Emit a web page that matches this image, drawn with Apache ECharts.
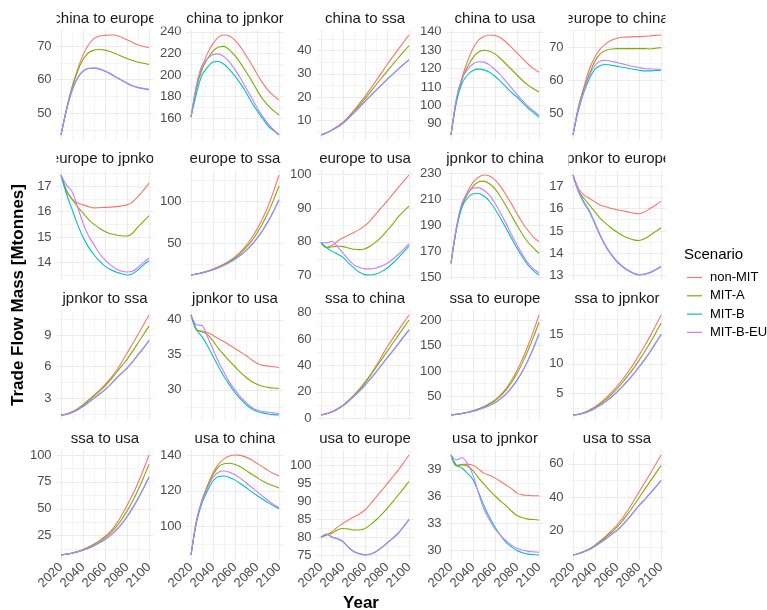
<!DOCTYPE html>
<html>
<head>
<meta charset="utf-8">
<script src="https://cdn.jsdelivr.net/npm/echarts@6/dist/echarts.min.js"></script>
<style>
  html, body { margin: 0; padding: 0; background: #fff; }
  #chart { width: 767px; height: 610px; }
</style>
</head>
<body>
<div id="chart"></div>
<script>
// years on the x axis
const years = [2020, 2025, 2030, 2035, 2040, 2045, 2050, 2055, 2060, 2065, 2070, 2075, 2080, 2085, 2090, 2095, 2100];
const scenarios = ['non-MIT', 'MIT-A', 'MIT-B', 'MIT-B-EU'];
const colors = ['#F8766D', '#7CAE00', '#00BFC4', '#C77CFF'];
const xTicks = [2020, 2040, 2060, 2080, 2100];

// each panel: [non-MIT, MIT-A, MIT-B, MIT-B-EU]
const chinaEurope = [
  [43.5, 51.3, 57.8, 63.0, 67.3, 70.4, 72.2, 73.0, 73.2, 73.3, 73.2, 72.6, 71.9, 71.1, 70.4, 69.9, 69.5],
  [43.5, 51.2, 57.4, 62.4, 66.0, 68.0, 68.8, 69.0, 68.8, 68.3, 67.7, 67.0, 66.3, 65.7, 65.2, 64.9, 64.5],
  [43.5, 50.9, 56.6, 60.4, 62.5, 63.3, 63.4, 63.1, 62.5, 61.7, 60.7, 59.8, 58.9, 58.1, 57.6, 57.3, 57.0],
  [43.5, 51.0, 56.8, 60.5, 62.6, 63.4, 63.5, 63.2, 62.6, 61.8, 60.8, 59.9, 59.0, 58.2, 57.7, 57.4, 57.1]
];
const chinaJpnkor = [
  [161, 189, 207, 220, 229, 235, 237, 236, 232, 226, 218, 210, 201, 193, 186, 181, 177],
  [161, 188, 205, 215, 222, 226, 226.5, 223, 218, 211, 203, 195, 186, 178, 172, 167, 163],
  [161, 183, 200, 207, 212, 212.5, 210, 205, 199, 192, 184, 175, 167, 160, 153, 148.5, 144.5],
  [161, 191, 209, 215, 219, 219.5, 217, 212, 205, 197, 188, 179, 170, 162, 155, 149.5, 145]
];
const chinaSsa = [
  [3.7, 4.7, 5.9, 7.4, 9.2, 11.6, 14.3, 17.3, 20.3, 23.6, 27.0, 30.4, 33.9, 37.2, 40.4, 43.6, 46.7],
  [3.7, 4.7, 5.9, 7.3, 9.0, 11.2, 13.8, 16.5, 19.3, 22.3, 25.2, 28.2, 31.1, 33.9, 36.7, 39.4, 42.1],
  [3.7, 4.6, 5.8, 7.1, 8.7, 10.9, 13.2, 15.6, 18.1, 20.5, 22.9, 25.2, 27.5, 29.7, 31.9, 34.0, 36.0],
  [3.7, 4.6, 5.8, 7.1, 8.8, 11.0, 13.3, 15.7, 18.2, 20.6, 23.0, 25.3, 27.6, 29.8, 32.0, 34.1, 36.1]
];
const chinaUsa = [
  [83.8, 103, 115, 124, 131, 135.5, 137.5, 138.3, 138, 136.8, 134.5, 131.5, 128.5, 125.5, 122.5, 120, 118],
  [83.8, 103, 114, 121, 126, 129, 130, 129.5, 128, 125.5, 122.5, 119.5, 116.5, 113.5, 111, 109, 107.2],
  [83.8, 102, 112, 116.5, 119, 119.7, 119.3, 118, 115.8, 113, 110, 107, 104.5, 101.5, 98.5, 96, 93.6],
  [83.8, 104, 114.5, 119.5, 122.5, 123.7, 123.5, 122, 119.5, 116.5, 113, 109.5, 106, 102.5, 99.5, 97, 94.5]
];
const europeChina = [
  [43.5, 52, 58, 63.5, 67, 69.5, 71, 72, 72.6, 72.9, 73.0, 73.1, 73.1, 73.2, 73.3, 73.5, 73.6],
  [43.5, 52, 57.5, 62, 65.8, 68, 69.0, 69.4, 69.5, 69.5, 69.5, 69.5, 69.5, 69.5, 69.4, 69.6, 69.8],
  [43.5, 51, 56.5, 60.5, 63.3, 64.4, 64.7, 64.5, 64.2, 63.9, 63.6, 63.3, 63.0, 62.8, 62.8, 62.9, 63.0],
  [43.5, 51.5, 57, 61.5, 64.5, 65.8, 66.0, 65.7, 65.3, 64.9, 64.5, 64.1, 63.8, 63.5, 63.4, 63.3, 63.3]
];
const europeJpnkor = [
  [17.45, 16.85, 16.5, 16.35, 16.27, 16.2, 16.15, 16.16, 16.17, 16.18, 16.2, 16.23, 16.27, 16.38, 16.6, 16.85, 17.13],
  [17.45, 16.8, 16.5, 16.2, 15.95, 15.7, 15.5, 15.35, 15.22, 15.13, 15.08, 15.05, 15.04, 15.15, 15.4, 15.62, 15.85],
  [17.45, 16.7, 16.1, 15.5, 15.0, 14.6, 14.3, 14.05, 13.85, 13.72, 13.62, 13.55, 13.5, 13.55, 13.7, 13.9, 14.06],
  [17.45, 17.05, 16.8, 16.2, 15.55, 15.05, 14.7, 14.35, 14.1, 13.9, 13.75, 13.65, 13.62, 13.65, 13.8, 14.0, 14.16]
];
const europeSsa = [
  [12.6, 13.8, 15.3, 17.2, 19.6, 22.3, 25.5, 29.4, 34.0, 40.0, 47.2, 56.0, 66.5, 79.0, 93.5, 111.0, 130.7],
  [12.6, 13.8, 15.2, 17.0, 19.3, 21.9, 25.0, 28.7, 33.0, 38.4, 44.8, 52.6, 61.9, 73.0, 86.0, 101.0, 117.7],
  [12.6, 13.7, 15.0, 16.7, 18.8, 21.2, 24.0, 27.4, 31.3, 35.9, 41.3, 47.9, 55.7, 64.9, 75.5, 87.6, 101.2],
  [12.6, 13.7, 15.0, 16.7, 18.9, 21.3, 24.1, 27.6, 31.6, 36.2, 41.6, 48.3, 56.2, 65.4, 76.0, 88.1, 101.7]
];
const europeUsa = [
  [79.8, 78.4, 79.0, 80.2, 81.2, 82.0, 82.8, 83.7, 84.8, 86.4, 88.3, 90.2, 92.0, 94.0, 96.0, 97.9, 99.8],
  [79.8, 78.3, 78.5, 78.8, 78.6, 78.2, 77.8, 77.7, 78.0, 78.8, 80.0, 81.5, 83.3, 85.2, 87.3, 89.0, 90.6],
  [79.8, 78.3, 77.2, 76.4, 75.4, 73.8, 72.3, 71.0, 70.3, 70.2, 70.5, 71.2, 72.2, 73.6, 75.2, 77.0, 78.8],
  [79.8, 79.7, 80.2, 78.5, 76.7, 74.8, 73.2, 72.4, 72.0, 72.0, 72.3, 72.9, 73.6, 74.8, 76.2, 77.8, 79.4]
];
const jpnkorChina = [
  [160.8, 188, 206, 216, 223, 227, 228.7, 228, 225, 220, 213.5, 206.5, 199, 192, 186, 181, 177.4],
  [160.8, 188, 205, 214, 220, 223.5, 224, 222, 218, 212, 205, 197.5, 190, 183, 177, 172.5, 168.5],
  [160.8, 187, 204, 211, 214.3, 214.5, 212.5, 208.5, 202.5, 195.5, 188, 180, 172.5, 165.5, 159.5, 155, 151.8],
  [160.8, 189, 207, 214.5, 218.5, 219, 217, 213, 207, 199.5, 191.5, 183, 175, 167.5, 161, 156.5, 153.5]
];
const jpnkorEurope = [
  [17.5, 16.9, 16.6, 16.45, 16.3, 16.15, 16.08, 16.0, 15.95, 15.9, 15.85, 15.8, 15.77, 15.85, 16.0, 16.15, 16.33],
  [17.5, 16.8, 16.45, 16.15, 15.85, 15.55, 15.33, 15.12, 14.95, 14.8, 14.68, 14.6, 14.57, 14.65, 14.8, 14.97, 15.14],
  [17.5, 16.75, 16.25, 15.85, 15.3, 14.75, 14.28, 13.92, 13.62, 13.4, 13.23, 13.1, 13.03, 13.05, 13.13, 13.26, 13.4],
  [17.5, 16.8, 16.3, 15.9, 15.35, 14.8, 14.32, 13.95, 13.65, 13.42, 13.25, 13.12, 13.05, 13.07, 13.15, 13.28, 13.42]
];
const jpnkorSsa = [
  [1.42, 1.52, 1.72, 2.02, 2.4, 2.84, 3.3, 3.78, 4.3, 4.9, 5.57, 6.4, 7.27, 8.15, 9.05, 9.97, 10.9],
  [1.42, 1.5, 1.7, 1.98, 2.35, 2.78, 3.22, 3.68, 4.15, 4.75, 5.4, 6.05, 6.7, 7.45, 8.25, 9.05, 9.85],
  [1.42, 1.48, 1.65, 1.9, 2.22, 2.6, 3.0, 3.4, 3.8, 4.3, 4.85, 5.35, 5.85, 6.45, 7.1, 7.75, 8.46],
  [1.42, 1.48, 1.66, 1.91, 2.24, 2.62, 3.02, 3.43, 3.83, 4.33, 4.88, 5.38, 5.89, 6.49, 7.14, 7.8, 8.5]
];
const jpnkorUsa = [
  [40.7, 38.6, 38.4, 38.2, 37.8, 37.3, 36.9, 36.4, 35.9, 35.4, 34.9, 34.3, 33.8, 33.5, 33.4, 33.3, 33.2],
  [40.7, 38.6, 38.3, 37.9, 37.0, 35.9, 35.0, 34.1, 33.3, 32.5, 31.8, 31.2, 30.8, 30.5, 30.35, 30.25, 30.2],
  [40.7, 38.6, 37.6, 36.3, 34.8, 33.3, 31.9, 30.7, 29.6, 28.7, 27.9, 27.3, 26.9, 26.7, 26.55, 26.45, 26.4],
  [40.7, 39.3, 39.2, 37.6, 35.8, 34.0, 32.5, 31.1, 30.0, 29.0, 28.2, 27.5, 27.1, 26.9, 26.8, 26.7, 26.6]
];
const ssaChina = [
  [2.5, 3.5, 5.0, 7.2, 10.0, 13.6, 17.8, 22.4, 27.4, 33.2, 39.8, 46.8, 53.8, 60.2, 66.3, 72.3, 78.3],
  [2.5, 3.5, 5.0, 7.1, 9.8, 13.3, 17.4, 21.8, 26.8, 32.5, 38.5, 44.5, 50.5, 56.5, 62.5, 68.5, 74.5],
  [2.5, 3.5, 4.9, 6.9, 9.5, 12.8, 16.6, 20.6, 25.0, 29.8, 34.8, 40.2, 45.5, 50.7, 56.0, 61.5, 66.9],
  [2.5, 3.5, 4.9, 7.0, 9.6, 12.9, 16.8, 20.8, 25.3, 30.1, 35.1, 40.5, 45.8, 51.0, 56.3, 61.8, 67.2]
];
const ssaEurope = [
  [12.6, 14.0, 15.7, 18.0, 21.0, 24.8, 29.5, 35.5, 42.5, 52.5, 65.0, 81.5, 101, 124, 150, 179, 211],
  [12.6, 14.0, 15.7, 18.0, 20.9, 24.6, 29.0, 34.8, 41.5, 50.5, 62.0, 77.0, 95.0, 116.5, 140.5, 167.5, 196.7],
  [12.6, 13.9, 15.5, 17.5, 20.1, 23.3, 27.0, 31.6, 36.9, 44.5, 54.0, 66.5, 81.2, 99.3, 120.5, 145.5, 173.2],
  [12.6, 13.9, 15.5, 17.6, 20.3, 23.5, 27.3, 32.0, 37.3, 44.9, 54.4, 67.0, 82.0, 100, 121, 146, 173.7]
];
const ssaJpnkor = [
  [1.33, 1.45, 1.75, 2.2, 2.75, 3.42, 4.23, 5.15, 6.2, 7.34, 8.6, 9.95, 11.43, 12.98, 14.65, 16.41, 18.27],
  [1.33, 1.44, 1.72, 2.12, 2.62, 3.24, 3.99, 4.84, 5.79, 6.84, 7.99, 9.23, 10.59, 12.01, 13.54, 15.15, 16.86],
  [1.33, 1.42, 1.65, 1.98, 2.44, 3.0, 3.64, 4.38, 5.22, 6.13, 7.14, 8.23, 9.42, 10.66, 12.0, 13.42, 14.92],
  [1.33, 1.43, 1.66, 2.0, 2.46, 3.02, 3.67, 4.42, 5.26, 6.18, 7.19, 8.29, 9.48, 10.73, 12.07, 13.5, 15.0]
];
const ssaUsa = [
  [7.0, 7.8, 8.9, 10.3, 12.1, 14.4, 17.2, 20.4, 24.2, 29.0, 35.5, 43.5, 53.0, 63.0, 74.0, 86.5, 100],
  [7.0, 7.8, 8.9, 10.2, 11.9, 14.1, 16.7, 19.7, 23.2, 27.6, 33.0, 39.8, 47.8, 57.0, 67.3, 78.8, 91.3],
  [7.0, 7.7, 8.6, 9.8, 11.4, 13.3, 15.6, 18.3, 21.4, 25.2, 29.9, 35.6, 42.4, 50.3, 59.2, 69.0, 79.4],
  [7.0, 7.7, 8.7, 9.9, 11.5, 13.4, 15.7, 18.4, 21.6, 25.4, 30.2, 36.0, 42.8, 50.8, 59.6, 69.4, 79.8]
];
const usaChina = [
  [83.7, 103, 114.5, 123, 130, 135, 138, 139.6, 140.2, 140, 139, 137.5, 135.5, 133.5, 131.5, 129.8, 128.3],
  [83.7, 103, 114.5, 122.5, 129, 133.5, 135.3, 135.5, 134.8, 133.5, 131.5, 129.5, 127.5, 125.5, 124, 122.8, 121.6],
  [83.7, 102, 113, 120, 125.5, 128, 128.3, 127.5, 126, 124, 121.8, 119.5, 117.3, 115.3, 113.3, 111.5, 109.8],
  [83.7, 103, 114, 121.5, 127.5, 130.5, 131.2, 130.5, 129, 127, 124.5, 122, 119.5, 117, 114.5, 112.3, 110.4]
];
const usaEurope = [
  [80.0, 80.5, 81.5, 82.8, 83.9, 84.8, 85.7, 86.5, 87.6, 89.3, 91.2, 93.0, 94.9, 96.8, 98.7, 100.8, 103.0],
  [80.0, 80.7, 81.1, 82.0, 82.4, 82.3, 82.0, 82.0, 82.4, 83.5, 84.8, 86.3, 88.0, 89.8, 91.7, 93.6, 95.6],
  [80.0, 80.8, 80.0, 79.5, 78.7, 77.1, 75.9, 75.3, 75.0, 75.2, 75.9, 77.0, 78.3, 79.6, 81.0, 82.9, 84.9],
  [80.0, 80.9, 80.1, 79.6, 78.8, 77.2, 76.0, 75.4, 75.1, 75.3, 76.0, 77.1, 78.4, 79.7, 81.1, 83.0, 85.0]
];
const usaJpnkor = [
  [40.65, 39.4, 39.6, 39.6, 39.5, 39.1, 38.6, 38.4, 38.1, 37.7, 37.3, 36.9, 36.4, 36.2, 36.15, 36.1, 36.1],
  [40.65, 39.5, 39.55, 39.4, 38.9, 38.1, 37.4, 36.7, 36.1, 35.5, 35.0, 34.4, 33.9, 33.65, 33.5, 33.45, 33.4],
  [40.65, 39.5, 39.2, 38.6, 37.9, 36.5, 35.0, 33.7, 32.6, 31.7, 30.9, 30.4, 30.0, 29.75, 29.6, 29.55, 29.5],
  [40.65, 40.1, 40.35, 39.7, 38.4, 36.4, 34.6, 33.4, 32.4, 31.7, 31.1, 30.6, 30.25, 30.05, 29.9, 29.85, 29.8]
];
const usaSsa = [
  [5.6, 6.5, 7.7, 9.3, 11.5, 14.1, 17.0, 20.2, 23.5, 27.6, 32.5, 37.7, 43.2, 48.5, 54.0, 59.6, 65.3],
  [5.6, 6.5, 7.7, 9.2, 11.3, 13.7, 16.4, 19.2, 22.2, 25.9, 30.3, 35.0, 39.8, 44.6, 49.4, 54.2, 59.0],
  [5.6, 6.4, 7.5, 8.9, 10.8, 13.0, 15.3, 17.8, 20.2, 23.4, 27.1, 31.0, 35.1, 38.5, 42.2, 46.0, 49.9],
  [5.6, 6.4, 7.5, 9.0, 10.9, 13.1, 15.5, 18.0, 20.4, 23.6, 27.3, 31.2, 35.3, 38.7, 42.4, 46.2, 50.1]
];

const panelTitles = [
  'china to europe', 'china to jpnkor', 'china to ssa', 'china to usa', 'europe to china',
  'europe to jpnkor', 'europe to ssa', 'europe to usa', 'jpnkor to china', 'jpnkor to europe',
  'jpnkor to ssa', 'jpnkor to usa', 'ssa to china', 'ssa to europe', 'ssa to jpnkor',
  'ssa to usa', 'usa to china', 'usa to europe', 'usa to jpnkor', 'usa to ssa'
];
const panelValues = [
  chinaEurope, chinaJpnkor, chinaSsa, chinaUsa, europeChina,
  europeJpnkor, europeSsa, europeUsa, jpnkorChina, jpnkorEurope,
  jpnkorSsa, jpnkorUsa, ssaChina, ssaEurope, ssaJpnkor,
  ssaUsa, usaChina, usaEurope, usaJpnkor, usaSsa
];
// y tick labels per panel
const yTicks = [
  [50, 60, 70], [160, 180, 200, 220, 240], [10, 20, 30, 40], [90, 100, 110, 120, 130, 140], [50, 60, 70],
  [14, 15, 16, 17], [50, 100], [70, 80, 90, 100], [150, 170, 190, 210, 230], [13, 14, 15, 16, 17],
  [3, 6, 9], [30, 35, 40], [0, 20, 40, 60, 80], [50, 100, 150, 200], [5, 10, 15],
  [25, 50, 75, 100], [100, 120, 140], [75, 80, 85, 90, 95, 100], [30, 33, 36, 39], [20, 40, 60]
];

// layout (px)
const col2020 = [61, 191, 321, 451, 573];
const rowTop = [30, 170, 310, 450];
const pxYear = 1.1;
const panelW = 88 * pxYear;
const panelH = 110;
const font = 'Liberation Sans, Arial, sans-serif';
const axisText = '#4D4D4D';
const gridCol = '#EBEBEB';

const minorOf = (ticks, lo, hi) => {
  const step = ticks[1] - ticks[0];
  const out = [];
  for (let k = 0; k <= ticks.length; k++) {
    const v = k === 0 ? ticks[0] - step / 2 : ticks[k - 1] + step / 2;
    if (v >= lo && v <= hi) out.push(v);
  }
  return out;
};

const grids = [], xAxes = [], yAxes = [], series = [], graphics = [];

panelValues.forEach((vals, i) => {
  const r = Math.floor(i / 5), c = i % 5;
  const left = col2020[c] - 4 * pxYear;
  grids.push({ left: left, top: rowTop[r], width: panelW, height: panelH, outerBoundsMode: 'none' });

  const all = vals.flat();
  const lo = Math.min(...all), hi = Math.max(...all);
  const pad = (hi - lo) * 0.05;
  const ymin = lo - pad, ymax = hi + pad;

  // major x
  xAxes.push({
    type: 'value', gridIndex: i, min: 2016, max: 2104,
    axisLine: { show: false },
    axisTick: { show: false, customValues: xTicks },
    axisLabel: {
      show: r === 3, customValues: xTicks, rotate: 45, margin: 5,
      fontSize: 13, color: axisText, fontFamily: font,
      formatter: (v) => String(v)
    },
    splitLine: { show: true, lineStyle: { color: gridCol, width: 1.1 } }
  });
  // minor x
  xAxes.push({
    type: 'value', gridIndex: i, min: 2016, max: 2104,
    axisLine: { show: false },
    axisTick: { show: false, customValues: [2030, 2050, 2070, 2090] },
    axisLabel: { show: false },
    splitLine: { show: true, lineStyle: { color: gridCol, width: 0.55 } }
  });
  // major y
  yAxes.push({
    type: 'value', gridIndex: i, min: ymin, max: ymax,
    axisLine: { show: false },
    axisTick: { show: false, customValues: yTicks[i] },
    axisLabel: {
      customValues: yTicks[i], margin: 5,
      fontSize: 13, color: axisText, fontFamily: font,
      formatter: (v) => String(v)
    },
    splitLine: { show: true, lineStyle: { color: gridCol, width: 1.1 } }
  });
  // minor y
  yAxes.push({
    type: 'value', gridIndex: i, min: ymin, max: ymax, position: 'left',
    axisLine: { show: false },
    axisTick: { show: false, customValues: minorOf(yTicks[i], ymin, ymax) },
    axisLabel: { show: false },
    splitLine: { show: true, lineStyle: { color: gridCol, width: 0.55 } }
  });

  vals.forEach((line, k) => {
    series.push({
      type: 'line',
      name: scenarios[k],
      xAxisIndex: 2 * i,
      yAxisIndex: 2 * i,
      data: years.map((y, j) => [y, line[j]]),
      symbol: 'none',
      smooth: 0.3,
      silent: true,
      color: colors[k],
      lineStyle: { width: 1.1, color: colors[k] }
    });
  });

  // strip title
  graphics.push({
    type: 'text', z: 10,
    x: left + panelW / 2, y: 18.5 + 140 * r,
    style: {
      text: panelTitles[i], fill: '#1A1A1A',
      font: '15px ' + font, align: 'center', verticalAlign: 'middle'
    }
  });
});

// clip strip titles to their panel width
for (let r = 0; r < 4; r++) {
  const my = 18.5 + 140 * r;
  const edges = [36];
  col2020.forEach((x) => { edges.push(x - 4 * pxYear); edges.push(x - 4 * pxYear + panelW); });
  edges.push(683);
  for (let k = 0; k < edges.length; k += 2) {
    graphics.push({
      type: 'rect', z: 20,
      shape: { x: edges[k], y: my - 9, width: edges[k + 1] - edges[k], height: 17 },
      style: { fill: '#fff' }
    });
  }
}

// axis titles and legend title
graphics.push({
  type: 'text', z: 30, x: 361, y: 603,
  style: { text: 'Year', fill: '#000', font: 'bold 17px ' + font, align: 'center', verticalAlign: 'middle' }
});
graphics.push({
  type: 'text', z: 30, x: 18, y: 295, rotation: Math.PI / 2,
  style: { text: 'Trade Flow Mass [Mtonnes]', fill: '#000', font: 'bold 17px ' + font, align: 'center', verticalAlign: 'middle' }
});
graphics.push({
  type: 'text', z: 30, x: 684, y: 255,
  style: { text: 'Scenario', fill: '#000', font: '15px ' + font, align: 'left', verticalAlign: 'middle' }
});

const chart = echarts.init(document.getElementById('chart'));
chart.setOption({
  animation: false,
  backgroundColor: '#fff',
  grid: grids,
  xAxis: xAxes,
  yAxis: yAxes,
  series: series,
  legend: {
    data: scenarios,
    orient: 'vertical',
    left: 687,
    top: 270,
    padding: 0,
    icon: 'rect',
    itemWidth: 15,
    itemHeight: 1.2,
    itemGap: 3.3,
    selectedMode: false,
    textStyle: { fontSize: 13, color: '#000', fontFamily: font, lineHeight: 15, padding: [0, 0, 0, 3] }
  },
  graphic: graphics
});
</script>
</body>
</html>
